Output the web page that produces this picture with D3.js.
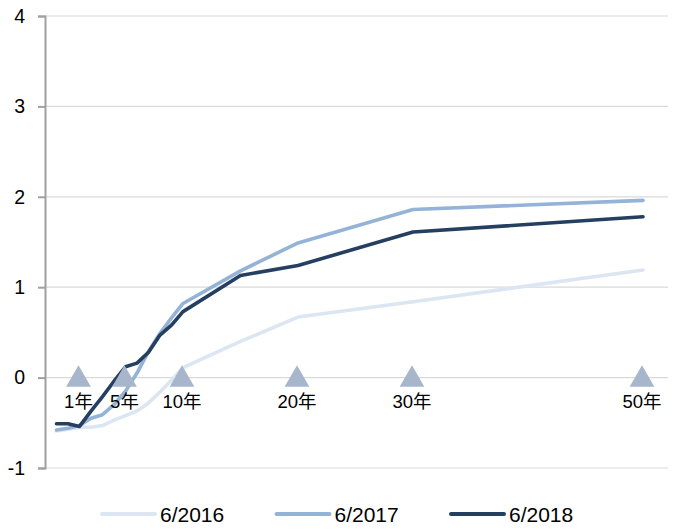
<!DOCTYPE html>
<html>
<head>
<meta charset="utf-8">
<script src="https://cdn.jsdelivr.net/npm/d3@7"></script>
<style>
  html, body { margin: 0; padding: 0; background: #fff; }
  svg { display: block; font-family: "Liberation Sans", Arial, "Noto Sans CJK JP", sans-serif; }
</style>
</head>
<body>
<svg id="chart" width="674" height="530"></svg>
<script>
// ---- data ----
const maturities = [-1, 0, 1, 2, 3, 4, 5, 6, 7, 8, 9, 10, 15, 20, 30, 50];
const y2016 = [-0.59, -0.57, -0.55, -0.55, -0.53, -0.47, -0.42, -0.37, -0.28, -0.16, -0.03, 0.11, 0.40, 0.67, 0.84, 1.19];
const y2017 = [-0.58, -0.56, -0.53, -0.45, -0.41, -0.30, -0.15, 0.05, 0.29, 0.49, 0.66, 0.82, 1.18, 1.49, 1.86, 1.96];
const y2018 = [-0.51, -0.51, -0.54, -0.37, -0.21, -0.04, 0.12, 0.16, 0.28, 0.47, 0.58, 0.73, 1.13, 1.24, 1.61, 1.78];
const seriesNames = ["6/2016", "6/2017", "6/2018"];
const seriesColors = ["#dce6f2", "#95b3d7", "#243f60"];
const yTicks = [-1, 0, 1, 2, 3, 4];
const markerYears = [1, 5, 10, 20, 30, 50];
const markerLabels = ["1年", "5年", "10年", "20年", "30年", "50年"];

const seriesValues = [y2016, y2017, y2018];

// ---- layout ----
const svg = d3.select("#chart");
const plotL = 45, plotR = 666, plotT = 16, plotB = 468;

const x = d3.scaleLinear().domain([-2, 52]).range([plotL, plotR]);
const y = d3.scaleLinear().domain([-1, 4]).range([plotB, plotT]);

// gridlines
svg.append("g")
  .selectAll("line")
  .data(yTicks)
  .join("line")
  .attr("x1", plotL).attr("x2", 668)
  .attr("y1", d => y(d)).attr("y2", d => y(d))
  .attr("stroke", "#d9d9d9").attr("stroke-width", 1.2);

// y axis
const yAxis = d3.axisLeft(y).tickValues(yTicks).tickFormat(d => String(d)).tickSize(7).tickPadding(13);
const gy = svg.append("g").attr("transform", `translate(${plotL},0)`).call(yAxis);
gy.select(".domain").attr("stroke", "#a0a0a0").attr("stroke-width", 2);
gy.selectAll(".tick line").attr("stroke", "#a0a0a0").attr("stroke-width", 2);
gy.selectAll(".tick text").attr("font-size", 19.5).attr("fill", "#000")
  .attr("font-family", "'Liberation Sans', Arial, sans-serif");

// lines
const line = d3.line().x((d, i) => x(maturities[i])).y(d => y(d));
svg.append("g")
  .selectAll("path")
  .data(seriesValues)
  .join("path")
  .attr("d", d => line(d))
  .attr("fill", "none")
  .attr("stroke", (d, i) => seriesColors[i])
  .attr("stroke-width", 3.6)
  .attr("stroke-linejoin", "round")
  .attr("stroke-linecap", "round");

// triangle markers
const tri = d3.symbol().type(d3.symbolTriangle).size(265);
const gm = svg.append("g");
gm.selectAll("path")
  .data(markerYears)
  .join("path")
  .attr("d", tri)
  .attr("transform", d => `translate(${x(d) - 1},${y(0) + 2})`)
  .attr("fill", "#a7b6cb");
gm.selectAll("text")
  .data(markerYears)
  .join("text")
  .attr("x", d => x(d) - 1)
  .attr("y", y(0) + 30)
  .attr("text-anchor", "middle")
  .attr("font-size", 18.5)
  .attr("fill", "#000")
  .text((d, i) => markerLabels[i]);

// legend
const lg = svg.append("g");
const legX0 = 102, legStep = 174.5, legY = 514;
seriesNames.forEach((name, i) => {
  const gx = legX0 + i * legStep;
  lg.append("line")
    .attr("x1", gx).attr("x2", gx + 53)
    .attr("y1", legY).attr("y2", legY)
    .attr("stroke", seriesColors[i]).attr("stroke-width", 4)
    .attr("stroke-linecap", "round");
  lg.append("text")
    .attr("x", gx + 58).attr("y", legY + 7.5)
    .attr("font-size", 21)
    .attr("fill", "#000")
    .text(name);
});
</script>
</body>
</html>
